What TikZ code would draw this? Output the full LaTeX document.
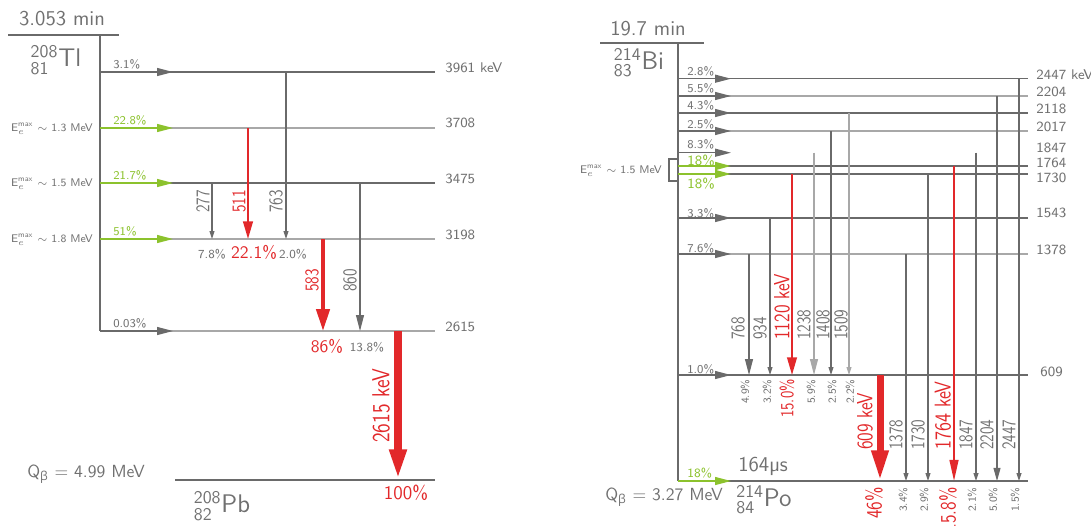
\documentclass[tikz,border=0pt]{standalone}
\usepackage{fontspec}
\usepackage{amsmath}
\renewcommand{\familydefault}{\sfdefault}
\newfontfamily\grk{Open Sans}
\usetikzlibrary{arrows.meta}

\definecolor{dgray}{RGB}{106,106,106}
\definecolor{lgray}{RGB}{168,168,168}
\definecolor{tgray}{RGB}{112,112,112}
\definecolor{hired}{RGB}{226,40,42}
\definecolor{bgreen}{RGB}{140,194,45}

\newcommand{\fs}[1]{\fontsize{#1}{#1}\selectfont}
\newcommand{\nuc}[3]{${}^{\text{#1}}_{\text{#2}}$#3}

\begin{document}
\begin{tikzpicture}[x=0.02cm, y=-0.02cm,
    lev/.style={line width=0.7pt},
    vline/.style={dgray, line width=0.7pt},
    beta/.style={line width=0.7pt, -{Triangle[length=9pt,width=4.5pt]}},
    gsm/.style={dgray, line width=0.6pt, -{Triangle[length=4.5pt,width=2.8pt]}},
    gbig/.style={dgray, line width=0.6pt, -{Triangle[length=9pt,width=4.5pt]}},
    rthin/.style={hired, line width=1.2pt, -{Triangle[length=10pt,width=5.5pt]}},
    rmid/.style={hired, line width=2.2pt, -{Triangle[length=12.5pt,width=7.5pt]}},
    rfat/.style={hired, line width=4.4pt, -{Triangle[length=17.5pt,width=9pt]}},
    title/.style={text=tgray, font=\fs{12}, inner sep=0pt},
    nucl/.style={text=tgray, font=\fs{14.5}, inner sep=0pt},
    lvl/.style={text=tgray, font=\fs{8}, anchor=west, inner sep=0pt},
    bpct/.style={text=tgray, font=\fs{6.8}, anchor=west, inner sep=0pt},
    emax/.style={text=tgray, font=\fs{6.3}, anchor=east, inner sep=0pt},
    pct/.style={text=tgray, font=\fs{7}, inner sep=0pt},
    rpct/.style={text=hired, font=\fs{10}, inner sep=0pt},
    qval/.style={text=tgray, font=\fs{10}, inner sep=0pt},
    vlab/.style={rotate=90, xscale=0.8, anchor=west, inner sep=0pt, text=tgray, font=\fs{11}},
    vsm/.style={rotate=90, anchor=east, inner sep=0pt, text=tgray, font=\fs{6.2}}]
\useasboundingbox (0,0) rectangle (1091,525);

% ---------- 208Tl -> 208Pb ----------
\node[title] (tTl) at (62,19) {3.053 min};
\coordinate (Tltop) at (100,35);
\draw[dgray, line width=1.1pt] (8,35) -- (119,35);
\node[nucl] (nTl) at (56,60) {\nuc{208}{81}{Tl}};
% levels
\foreach \e/\y/\c in {3961/72/dgray, 3708/128/lgray, 3475/183/dgray, 3198/239/lgray, 2615/331/lgray}
  \draw[lev, \c] (100,\y) coordinate (Tl\e) -- (435,\y);
\draw[vline] (Tltop) -- (Tl2615);
\coordinate (Pb) at (175,480);
\draw[dgray, line width=1.3pt] (Pb) -- (435,480);
\foreach \e/\y/\t in {3961/68/3961 keV, 3708/123/3708, 3475/179/3475, 3198/235/3198, 2615/327/2615}
  \node[lvl] (kTl\e) at (445,\y) {\t};
% beta feeding
\draw[beta, dgray] (Tl3961) -- ++(73,0);
\draw[beta, bgreen] (Tl3708) -- ++(73,0);
\draw[beta, bgreen] (Tl3475) -- ++(73,0);
\draw[beta, bgreen] (Tl3198) -- ++(73,0);
\draw[beta, dgray] (Tl2615) -- ++(73,0);
\node[bpct] (pTl3961) at (113,64) {3.1\%};
\node[bpct, text=bgreen] (pTl3708) at (113,120) {22.8\%};
\node[bpct, text=bgreen] (pTl3475) at (113,175) {21.7\%};
\node[bpct, text=bgreen] (pTl3198) at (113,231) {51\%};
\node[bpct] (pTl2615) at (113,323) {0.03\%};
\node[emax] (eTl13) at (93,129) {E$^{\text{max}}_{e}$ $\sim$ 1.3 MeV};
\node[emax] (eTl15) at (93,184) {E$^{\text{max}}_{e}$ $\sim$ 1.5 MeV};
\node[emax] (eTl18) at (93,240) {E$^{\text{max}}_{e}$ $\sim$ 1.8 MeV};
% gammas
\coordinate (a277) at (212,183);
\coordinate (a511) at (248,128);
\coordinate (a763) at (286,72);
\coordinate (a583) at (323,239);
\coordinate (a860) at (360,183);
\coordinate (a2615) at (398,331);
\draw[gsm] (a277) -- (a277 |- Tl3198);
\draw[rthin] (a511) -- (a511 |- Tl3198);
\draw[gsm] (a763) -- (a763 |- Tl3198);
\draw[rmid] (a583) -- (a583 |- Tl2615);
\draw[gbig] (a860) -- (a860 |- Tl2615);
\draw[rfat] (a2615) -- (a2615 |- Pb);
\node[vlab] (l277) at (203,213) {277};
\node[vlab, text=hired] (l511) at (239,213) {511};
\node[vlab] (l763) at (276,213) {763};
\node[vlab, text=hired] (l583) at (312,292) {583};
\node[vlab] (l860) at (350,292) {860};
\node[vlab, text=hired, font=\fs{14}] (l2615) at (381,443) {2615 keV};
\node[pct] (i277) at (212,254) {7.8\%};
\node[rpct] (i511) at (254,252) {22.1\%};
\node[pct] (i763) at (293,254) {2.0\%};
\node[rpct] (i583) at (327,346) {86\%};
\node[pct] (i860) at (367,347) {13.8\%};
\node[rpct, font=\fs{11}] (i2615) at (406,493) {100\%};
\node[qval] (qTl) at (86,474) {Q\textsubscript{\grk β} = 4.99 MeV};
\node[nucl] (nPb) at (222,506) {\nuc{208}{82}{Pb}};

% ---------- 214Bi -> 214Po ----------
\node[title] (tBi) at (648,29) {19.7 min};
\coordinate (Bitop) at (678,43);
\draw[dgray, line width=1.1pt] (600,43) -- (704,43);
\node[nucl] (nBi) at (639,63) {\nuc{214}{83}{Bi}};
% levels
\foreach \e/\y/\c in {2447/78.7/dgray, 2204/96/lgray, 2118/113/dgray, 2017/131/lgray, 1764/166/dgray, 1730/174/dgray, 1543/218/dgray, 1378/254/lgray, 609/375/dgray}
  \draw[lev, \c] (678,\y) coordinate (Bi\e) -- (1028,\y);
\coordinate (Bi1847) at (678,152.7);
\coordinate (Po) at (678,481);
\draw[vline] (Bitop) -- (Po);
\draw[dgray, line width=1.3pt] (Po) -- (1028,481);
\foreach \e/\y/\t in {2447/75/2447 keV, 2204/92/2204, 2118/109/2118, 2017/127/2017, 1847/148/1847, 1764/163/1764, 1730/178/1730, 1543/213/1543, 1378/250/1378}
  \node[lvl] (kBi\e) at (1036,\y) {\t};
\node[lvl] (kBi609) at (1040,372) {609};
% beta feeding
\foreach \e in {2447, 2204, 2118, 2017, 1847, 1543, 1378, 609}
  \draw[beta, dgray] (Bi\e) -- ++(53,0);
\draw[beta, bgreen, line width=1.1pt] (Bi1764) -- ++(53,0);
\draw[beta, bgreen, line width=1.1pt] (Bi1730) -- ++(53,0);
\draw[beta, bgreen] (Po) -- ++(53,0);
\foreach \e/\y/\t in {2447/71/2.8, 2204/88/5.5, 2118/105/4.3, 2017/124/2.5, 1847/144/8.3, 1543/213/3.3, 1378/248/7.6, 609/369/1.0}
  \node[bpct] (pBi\e) at (687,\y) {\t\%};
\node[bpct, text=bgreen, font=\fs{8}] (pBi1764) at (687,161) {18\%};
\node[bpct, text=bgreen, font=\fs{8}] (pBi1730) at (687,184) {18\%};
\node[bpct, text=bgreen, font=\fs{7.2}] (pPo) at (687,473) {18\%};
\draw[vline, line width=0.6pt] (678,159) -- (669,159) -- (669,181) -- (678,181);
\node[emax] (eBi15) at (662,171) {E$^{\text{max}}_{e}$ $\sim$ 1.5 MeV};
% gammas to 609
\coordinate (b768) at (749,254);
\coordinate (b934) at (770,218);
\coordinate (b1120) at (792,174);
\coordinate (b1238) at (814,152.7);
\coordinate (b1408) at (831,131);
\coordinate (b1509) at (849,113);
\draw[gbig] (b768) -- (b768 |- Bi609);
\draw[gsm] (b934) -- (b934 |- Bi609);
\draw[rthin, line width=1.1pt] (b1120) -- (b1120 |- Bi609);
\draw[gbig, lgray] (b1238) -- (b1238 |- Bi609);
\draw[gsm] (b1408) -- (b1408 |- Bi609);
\draw[gsm, lgray] (b1509) -- (b1509 |- Bi609);
% gammas to ground
\coordinate (b609) at (880,375);
\coordinate (b1378) at (906,254);
\coordinate (b1730) at (928,174);
\coordinate (b1764) at (954,166);
\coordinate (b1847) at (976,152.7);
\coordinate (b2204) at (997,96);
\coordinate (b2447) at (1019,78.7);
\draw[rfat, line width=4pt] (b609) -- (b609 |- Po);
\draw[gsm] (b1378) -- (b1378 |- Po);
\draw[gsm] (b1730) -- (b1730 |- Po);
\draw[rthin, line width=1.1pt, -{Triangle[length=12pt,width=5pt]}] (b1764) -- (b1764 |- Po);
\draw[gsm] (b1847) -- (b1847 |- Po);
\draw[gsm, -{Triangle[length=7.5pt,width=4pt]}] (b2204) -- (b2204 |- Po);
\draw[gsm] (b2447) -- (b2447 |- Po);
% energies
\node[vlab] (l768) at (738,340) {768};
\node[vlab] (l934) at (760,340) {934};
\node[vlab, text=hired, font=\fs{12.5}] (l1120) at (782,340) {1120 keV};
\node[vlab] (l1238) at (804,340) {1238};
\node[vlab] (l1408) at (823,340) {1408};
\node[vlab] (l1509) at (841,340) {1509};
\node[vlab, text=hired, font=\fs{12.5}] (l609) at (865,450) {609 keV};
\node[vlab] (l1378) at (896,450) {1378};
\node[vlab] (l1730) at (918,450) {1730};
\node[vlab, text=hired, font=\fs{13}] (l1764) at (943,450) {1764 keV};
\node[vlab] (l1847) at (966,450) {1847};
\node[vlab] (l2204) at (987,450) {2204};
\node[vlab] (l2447) at (1009,450) {2447};
% intensities
\node[vsm] (i768) at (745,379) {4.9\%};
\node[vsm] (i934) at (767,379) {3.2\%};
\node[vsm, xscale=0.8, text=hired, font=\fs{10.5}] (i1120) at (787,379) {15.0\%};
\node[vsm] (i1238) at (811,379) {5.9\%};
\node[vsm] (i1408) at (832,379) {2.5\%};
\node[vsm] (i1509) at (850,379) {2.2\%};
\node[vsm, xscale=0.8, text=hired, font=\fs{12.5}] (i609) at (874,487) {46\%};
\node[vsm] (i1378) at (903,487) {3.4\%};
\node[vsm] (i1730) at (924,487) {2.9\%};
\node[vsm, xscale=0.8, text=hired, font=\fs{12.5}] (i1764) at (948,487) {15.8\%};
\node[vsm] (i1847) at (972,487) {2.1\%};
\node[vsm] (i2204) at (993,487) {5.0\%};
\node[vsm] (i2447) at (1015,487) {1.5\%};
\node[title] (hPo) at (763,466) {164µs};
\node[nucl] (nPo) at (764,500) {\nuc{214}{84}{Po}};
\node[qval] (qBi) at (664,497) {Q\textsubscript{\grk β} = 3.27 MeV};
\end{tikzpicture}
\end{document}
